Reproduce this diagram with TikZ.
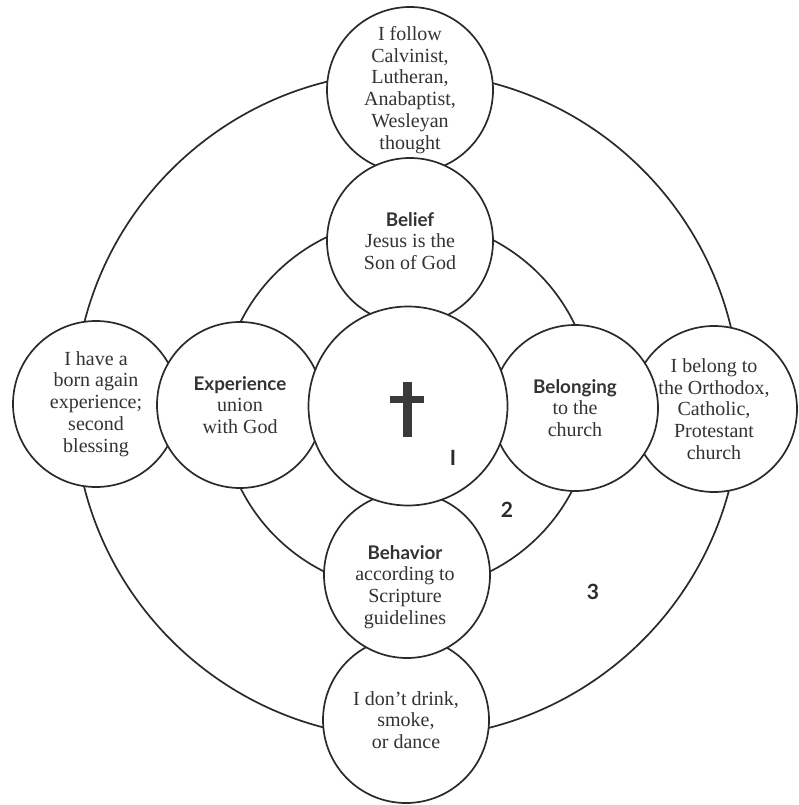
\documentclass[tikz,border=0pt]{standalone}
\usepackage{fontspec}
\setmainfont{Liberation Serif}
\newfontfamily\hdfont{Lato}
\newcommand\hdtext[1]{{\hdfont\bfseries\fontsize{18.8}{21.7}\selectfont #1}}
\definecolor{inkc}{HTML}{2A2A2A}
\definecolor{txtc}{HTML}{333333}
\definecolor{crossc}{HTML}{3A3A3A}
\begin{document}
\begin{tikzpicture}[x=1pt,y=-1pt,
  ring/.style={draw=inkc, line width=1.7pt},
  bub/.style={circle, draw=inkc, line width=1.7pt, fill=white, minimum size=166pt,
    inner sep=0pt, align=center, text=txtc, font=\fontsize{20}{21.8}\selectfont},
  hub/.style={bub, minimum size=199pt},
  lbl/.style={align=center, text=txtc, inner sep=0pt, font=\fontsize{20}{21.8}\selectfont},
  num/.style={text=inkc, inner sep=0pt, font=\hdfont\bfseries\fontsize{21}{21}\selectfont}
]
\useasboundingbox (0,0) rectangle (799,805);
\coordinate (o) at (407,405);
% rings
\draw[ring] (o) circle (333);
\draw[ring] (o) circle (186);
% outer bubbles
\node[bub] (top) at (410,90) {I follow\\Calvinist,\\Lutheran,\\Anabaptist,\\Wesleyan\\thought};
\node[bub] (left) at (96,404) {I have a\\born again\\experience;\\second\\blessing};
\node[bub] (right) at (714,409) {I belong to\\the Orthodox,\\Catholic,\\Protestant\\church};
\node[bub] (bottom) at (406,720) {I don't drink,\\smoke,\\or dance};
% inner bubbles
\node[bub] (belief) at (410,241) {\hdtext{Belief}\\Jesus is the\\Son of God};
\node[bub] (exp) at (240,405) {\hdtext{Experience}\\union\\with God};
\node[bub] (belong) at (575,408) {\hdtext{Belonging}\\to the\\church};
\node[bub] (behav) at (407,575) {};
\node[lbl] (behavtxt) at (405,587) {\hdtext{Behavior}\\according to\\Scripture\\guidelines};
% hub
\node[hub] (hub) at (408,406) {};
\fill[crossc] (403.3,381.7) rectangle (411.7,436.7);
\fill[crossc] (390,395.7) rectangle (424.3,403.3);
% ring numbers
\node[num] (n1) at (453,458) {I};
\node[num] (n2) at (507,510) {2};
\node[num] (n3) at (593,592) {3};
\end{tikzpicture}
\end{document}
